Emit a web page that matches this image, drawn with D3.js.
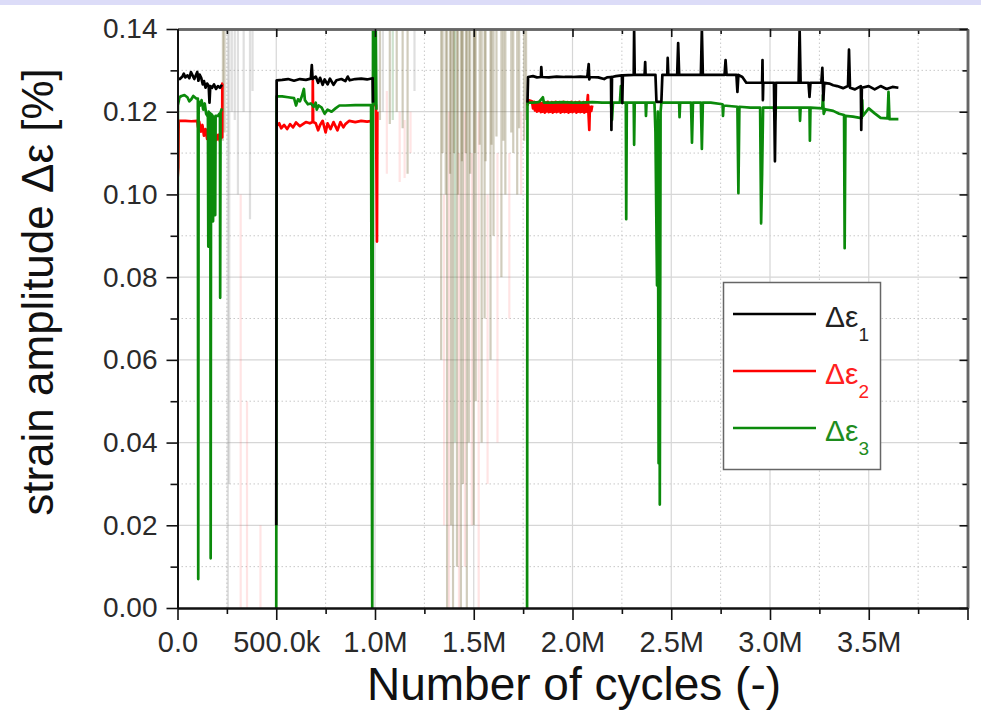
<!DOCTYPE html>
<html>
<head>
<meta charset="utf-8">
<script src="https://cdn.jsdelivr.net/npm/d3@7"></script>
<style>
body { margin: 0; background: #fff; }
svg { display: block; font-family: "Liberation Sans", Arial, sans-serif; }
</style>
</head>
<body>
<svg id="chart" width="981" height="721"></svg>
<script>
// cycles in thousands, strain amplitude in %
const xMajor = [0, 500, 1000, 1500, 2000, 2500, 3000, 3500, 4000];
const xMinor = [250, 750, 1250, 1750, 2250, 2750, 3250, 3750];
const xTickLabels = ["0.0", "500.0k", "1.0M", "1.5M", "2.0M", "2.5M", "3.0M", "3.5M", ""];
const yMajor = [0, 0.02, 0.04, 0.06, 0.08, 0.10, 0.12, 0.14];
const yMinor = [0.01, 0.03, 0.05, 0.07, 0.09, 0.11, 0.13];

const legendLabels = ["1", "2", "3"];

// Δε1
const eps1 = [
    [0, 0.1281], [12, 0.1279], [25, 0.1285], [32, 0.1292], [40, 0.1283], [50, 0.1288], [60, 0.1281],
    [68, 0.1296], [75, 0.1289], [85, 0.1279], [92, 0.1287], [100, 0.1296], [106, 0.1275], [112, 0.129],
    [120, 0.1282], [128, 0.1266], [134, 0.1274], [142, 0.1258], [150, 0.1268], [158, 0.1262], [162, 0.1222],
    [166, 0.1262], [175, 0.1258], [185, 0.1266], [195, 0.1255], [205, 0.1262], [215, 0.1258], [225, 0.1265],
    null,
    [500, 0.020], [502, 0.1276], [530, 0.1277], [560, 0.1279], [590, 0.1275], [620, 0.1279], [650, 0.1277],
    [675, 0.128], [680, 0.1313], [684, 0.1279], [700, 0.1285], [712, 0.127], [722, 0.1282], [735, 0.1265],
    [745, 0.1278], [760, 0.1266], [772, 0.128], [790, 0.1265], [805, 0.1276], [830, 0.1279], [850, 0.1274],
    [862, 0.1285], [872, 0.1276], [900, 0.1279], [930, 0.128], [960, 0.1278], [988, 0.1281], [990, 0.1222],
    null,
    [1772, 0.1222], [1775, 0.1284], [1800, 0.1286], [1820, 0.1283], [1840, 0.1284], [1842, 0.1308], [1845, 0.1284],
    [1880, 0.1283], [1920, 0.1285], [1960, 0.1284], [2000, 0.1284], [2040, 0.1285], [2075, 0.1284],
    [2082, 0.1315], [2085, 0.1278], [2088, 0.1284], [2130, 0.1283], [2160, 0.1279], [2175, 0.1283],
    [2195, 0.1284], [2197, 0.1156], [2200, 0.1284], [2220, 0.1286], [2250, 0.1288], [2252, 0.1221],
    [2255, 0.1288], [2310, 0.1289], [2312, 0.14], [2315, 0.1289], [2365, 0.1289], [2368, 0.132],
    [2370, 0.1289], [2420, 0.1289], [2425, 0.1224], [2450, 0.1224], [2455, 0.1289], [2480, 0.1289],
    [2482, 0.133], [2485, 0.1289], [2530, 0.1289], [2535, 0.1366], [2540, 0.1289], [2600, 0.1289],
    [2650, 0.1289], [2655, 0.14], [2660, 0.1289], [2700, 0.1289], [2770, 0.1289], [2775, 0.1325],
    [2780, 0.1289], [2830, 0.1289], [2835, 0.1248], [2840, 0.1289], [2860, 0.1284], [2880, 0.127],
    [2920, 0.127], [2960, 0.127], [2962, 0.1325], [2964, 0.1228], [2966, 0.127], [3020, 0.127],
    [3025, 0.108], [3030, 0.127], [3100, 0.127], [3145, 0.127], [3150, 0.14], [3155, 0.127],
    [3195, 0.127], [3200, 0.1236], [3205, 0.127], [3260, 0.127], [3265, 0.1306], [3270, 0.1228],
    [3275, 0.127], [3300, 0.1268], [3320, 0.1264], [3340, 0.1262], [3370, 0.1257], [3395, 0.1262],
    [3400, 0.135], [3405, 0.1258], [3430, 0.1254], [3460, 0.1262], [3462, 0.1156], [3465, 0.1258],
    [3500, 0.1262], [3530, 0.1254], [3560, 0.1262], [3590, 0.1255], [3620, 0.126], [3650, 0.1258]
];

// Δε2
const eps2 = [
    [0, 0.1035], [4, 0.1066], [6, 0.1178], [40, 0.1178], [70, 0.1177], [100, 0.1178], [104, 0.1163],
    [110, 0.1176], [118, 0.1152], [126, 0.1168], [134, 0.1142], [142, 0.1158], [150, 0.1134], [158, 0.1152],
    [166, 0.1138], [174, 0.1148], [182, 0.1128], [190, 0.1146], [198, 0.1132], [206, 0.1144], [214, 0.113],
    [222, 0.1142], [226, 0.1138], [227, 0.1268], [229, 0.1268],
    null,
    [502, 0.1165], [515, 0.1172], [525, 0.116], [540, 0.1168], [555, 0.1158], [570, 0.117], [585, 0.1162],
    [600, 0.1174], [620, 0.1165], [650, 0.1175], [670, 0.1172], [684, 0.1175], [685, 0.1277], [687, 0.1175],
    [700, 0.1172], [712, 0.1155], [722, 0.1168], [735, 0.1178], [750, 0.115], [760, 0.1172], [775, 0.1158],
    [790, 0.1175], [810, 0.1155], [825, 0.1175], [840, 0.1162], [850, 0.117], [870, 0.1178], [900, 0.1175],
    [930, 0.1178], [960, 0.1176], [985, 0.1178], [988, 0.1216], [1005, 0.1216], [1010, 0.0886], [1012, 0.12],
    null,
    [1772, 0.1215], [1775, 0.1228], [1795, 0.1225], [1800, 0.1208], [1805, 0.1224], [1810, 0.1203],
    [1815, 0.1222], [1820, 0.12], [1825, 0.1223], [1830, 0.1202], [1835, 0.1224], [1840, 0.1199],
    [1845, 0.122], [1850, 0.12], [1855, 0.1223], [1860, 0.1198], [1865, 0.1222], [1870, 0.1201],
    [1875, 0.1224], [1880, 0.1199], [1885, 0.1221], [1890, 0.12], [1895, 0.1223], [1900, 0.1198],
    [1905, 0.1222], [1910, 0.12], [1915, 0.1224], [1920, 0.1199], [1925, 0.1221], [1930, 0.1201],
    [1935, 0.1223], [1940, 0.1198], [1945, 0.1222], [1950, 0.12], [1955, 0.1224], [1960, 0.1199],
    [1965, 0.1221], [1970, 0.12], [1975, 0.1223], [1980, 0.1198], [1985, 0.1222], [1990, 0.12],
    [1995, 0.1224], [2000, 0.1199], [2005, 0.1221], [2010, 0.1201], [2015, 0.1223], [2020, 0.1198],
    [2025, 0.1222], [2030, 0.12], [2035, 0.1224], [2040, 0.1199], [2045, 0.1221], [2050, 0.12],
    [2055, 0.1223], [2060, 0.1198], [2065, 0.1222], [2070, 0.12], [2078, 0.124], [2080, 0.1205],
    [2085, 0.1156], [2088, 0.1212], [2095, 0.1202], [2100, 0.1215]
];

// Δε3
const eps3 = [
    [0, 0.002], [2, 0.1215], [10, 0.1235], [20, 0.1238], [35, 0.124], [50, 0.1235], [60, 0.1225],
    [70, 0.123], [80, 0.1238], [95, 0.1232], [103, 0.1232], [105, 0.007], [107, 0.1225], [115, 0.1215],
    [122, 0.1228], [130, 0.1205], [138, 0.122], [145, 0.1195], [154, 0.1188], [156, 0.0874], [158, 0.12],
    [166, 0.1195], [168, 0.012], [170, 0.1195], [178, 0.119], [180, 0.0935], [183, 0.1185], [189, 0.1188],
    [191, 0.095], [193, 0.119], [205, 0.119], [212, 0.1195], [215, 0.1188], [216, 0.075], [218, 0.1198],
    [225, 0.1208],
    null,
    [500, 0.0], [502, 0.1237], [530, 0.1237], [560, 0.1235], [590, 0.1233], [600, 0.1215], [610, 0.123],
    [620, 0.1225], [630, 0.1238], [640, 0.1255], [645, 0.1228], [660, 0.1218], [675, 0.122], [690, 0.1212],
    [700, 0.1222], [705, 0.1205], [715, 0.1215], [730, 0.121], [745, 0.1195], [760, 0.1205], [780, 0.12],
    [800, 0.1208], [820, 0.1215], [850, 0.1215], [900, 0.1216], [950, 0.1216], [980, 0.1216], [986, 0.0],
    [990, 0.14], [1000, 0.1218], [1004, 0.14], [1007, 0.1205],
    null,
    [1770, 0.0], [1772, 0.1222], [1800, 0.1222], [1830, 0.1223], [1850, 0.1235], [1855, 0.1222],
    [1900, 0.1222], [1950, 0.1223], [2000, 0.1222], [2050, 0.1222], [2100, 0.1223], [2150, 0.1222],
    [2195, 0.1222], [2200, 0.118], [2205, 0.1222], [2240, 0.1222], [2245, 0.1262], [2250, 0.1222],
    [2270, 0.1222], [2272, 0.094], [2275, 0.1222], [2310, 0.1222], [2312, 0.112], [2315, 0.1222],
    [2370, 0.1222], [2372, 0.119], [2375, 0.1222], [2415, 0.1222], [2420, 0.115], [2428, 0.078],
    [2432, 0.12], [2436, 0.035], [2440, 0.118], [2442, 0.025], [2446, 0.12], [2450, 0.1222],
    [2500, 0.1222], [2540, 0.1222], [2542, 0.1187], [2545, 0.1222], [2600, 0.1222], [2605, 0.1125],
    [2610, 0.1222], [2650, 0.1222], [2655, 0.111], [2660, 0.1222], [2700, 0.1222], [2760, 0.1218],
    [2762, 0.119], [2765, 0.1215], [2835, 0.1212], [2840, 0.1003], [2845, 0.1212], [2900, 0.121],
    [2950, 0.121], [2955, 0.093], [2960, 0.105], [2965, 0.121], [3020, 0.121], [3025, 0.118],
    [3030, 0.121], [3100, 0.121], [3150, 0.121], [3152, 0.1178], [3155, 0.121], [3200, 0.121],
    [3202, 0.113], [3205, 0.121], [3265, 0.1208], [3268, 0.124], [3272, 0.1195], [3280, 0.1206],
    [3320, 0.1202], [3350, 0.1195], [3375, 0.1192], [3378, 0.087], [3382, 0.119], [3420, 0.1188],
    [3455, 0.1185], [3465, 0.1185], [3467, 0.1228], [3470, 0.119], [3500, 0.1208], [3530, 0.1196],
    [3560, 0.1185], [3595, 0.1184], [3600, 0.1248], [3605, 0.1182], [3650, 0.1182]
];

// faint scatter of the noisy measurement ranges
const noiseCycles = [230, 238, 255, 262, 275, 290, 306, 320, 335, 352, 367, 380, 420,
    1025, 1040, 1060, 1075, 1090, 1110, 1125, 1140, 1150, 1165, 1180, 1200,
    1335, 1350, 1365, 1375, 1385, 1395, 1405, 1415, 1425, 1435, 1445, 1455, 1465, 1475, 1490,
    1500, 1510, 1525, 1540, 1555, 1570, 1585, 1600, 1620, 1640, 1660, 1680, 1700, 1720, 1740, 1755,
    1342, 1358, 1380, 1400, 1420, 1440, 1460, 1482, 1505, 1530, 1560, 1590, 1615, 1650, 1690, 1730, 1765];
const noiseHigh = [0.14, 0.14, 0.14, 0.14, 0.14, 0.14, 0.14, 0.10, 0.14, 0.05, 0.14, 0.14, 0.02,
    0.14, 0.14, 0.125, 0.14, 0.14, 0.14, 0.12, 0.14, 0.118, 0.14, 0.12, 0.14,
    0.14, 0.10, 0.14, 0.12, 0.14, 0.14, 0.14, 0.14, 0.11, 0.14, 0.14, 0.12, 0.14, 0.14, 0.11,
    0.14, 0.14, 0.12, 0.14, 0.14, 0.10, 0.14, 0.14, 0.11, 0.14, 0.14, 0.11, 0.14, 0.14, 0.12, 0.14,
    0.14, 0.14, 0.14, 0.14, 0.14, 0.14, 0.14, 0.14, 0.14, 0.14, 0.14, 0.14, 0.14, 0.14, 0.14, 0.14, 0.14];
const noiseLow = [0.113, 0.115, 0.0, 0.03, 0.12, 0.118, 0.10, 0.0, 0.12, 0.0, 0.094, 0.125, 0.0,
    0.118, 0.12, 0.105, 0.117, 0.118, 0.12, 0.103, 0.116, 0.104, 0.105, 0.11, 0.125,
    0.06, 0.02, 0.0, 0.0, 0.02, 0.0, 0.04, 0.01, 0.0, 0.0, 0.03, 0.01, 0.0, 0.04, 0.02,
    0.02, 0.05, 0.0, 0.04, 0.07, 0.03, 0.06, 0.09, 0.04, 0.08, 0.10, 0.07, 0.11, 0.10, 0.10, 0.113,
    0.11, 0.10, 0.105, 0.11, 0.10, 0.108, 0.11, 0.105, 0.11, 0.112, 0.108, 0.112, 0.114, 0.113, 0.115, 0.116, 0.118];
const noiseKind = ["o", "o", "g", "g", "g", "g", "g", "r", "g", "r", "g", "g", "r",
    "o", "g", "r", "o", "n", "o", "r", "o", "r", "o", "r", "g",
    "o", "r", "o", "r", "o", "o", "n", "o", "r", "o", "o", "r", "o", "o", "r",
    "o", "o", "r", "o", "o", "r", "o", "o", "r", "o", "o", "r", "o", "o", "r", "o",
    "o", "o", "o", "o", "o", "o", "o", "o", "o", "o", "o", "o", "o", "o", "o", "o", "o"];

const colors = { black: "#000000", red: "#ff0000", green: "#0b8a0b" };
const noiseColors = { o: "#6e6030", g: "#8c8c8c", r: "#ff5a5a", n: "#3c8c3c" };
const noiseOpacity = { o: 0.32, g: 0.28, r: 0.16, n: 0.25 };

const svg = d3.select("#chart");
const x = d3.scaleLinear().domain([0, 4000]).range([177.5, 967.5]);
const y = d3.scaleLinear().domain([0, 0.14]).range([608, 29]);

svg.append("rect")
    .attr("x", 0).attr("y", 0)
    .attr("width", 981).attr("height", 5)
    .attr("fill", "#dcdcf8");

svg.append("clipPath").attr("id", "plot-clip")
    .append("rect")
    .attr("x", x(0)).attr("y", y(0.14))
    .attr("width", x(4000) - x(0)).attr("height", y(0) - y(0.14));

drawGrid();
drawNoise();
drawSeries();
drawAxes();
drawLegend();
drawTitles();

function drawGrid() {
    const grid = svg.append("g").attr("class", "grid");

    grid.selectAll(".minor-x")
        .data(xMinor)
        .enter()
        .append("line")
        .attr("x1", d => x(d)).attr("x2", d => x(d))
        .attr("y1", y(0)).attr("y2", y(0.14))
        .attr("stroke", "#c8c8c8")
        .attr("stroke-dasharray", "1.5,2.5");

    grid.selectAll(".minor-y")
        .data(yMinor)
        .enter()
        .append("line")
        .attr("x1", x(0)).attr("x2", x(4000))
        .attr("y1", d => y(d)).attr("y2", d => y(d))
        .attr("stroke", "#c8c8c8")
        .attr("stroke-dasharray", "1.5,2.5");

    grid.selectAll(".major-x")
        .data(xMajor.slice(1, -1))
        .enter()
        .append("line")
        .attr("x1", d => x(d)).attr("x2", d => x(d))
        .attr("y1", y(0)).attr("y2", y(0.14))
        .attr("stroke", "#d6d6d6")
        .attr("stroke-width", 1.2);

    grid.selectAll(".major-y")
        .data(yMajor.slice(1, -1))
        .enter()
        .append("line")
        .attr("x1", x(0)).attr("x2", x(4000))
        .attr("y1", d => y(d)).attr("y2", d => y(d))
        .attr("stroke", "#d6d6d6")
        .attr("stroke-width", 1.2);
}

function drawNoise() {
    svg.append("g")
        .attr("clip-path", "url(#plot-clip)")
        .selectAll("line")
        .data(noiseCycles)
        .enter()
        .append("line")
        .attr("x1", d => x(d)).attr("x2", d => x(d))
        .attr("y1", (d, i) => y(noiseHigh[i]))
        .attr("y2", (d, i) => y(noiseLow[i]))
        .attr("stroke", (d, i) => noiseColors[noiseKind[i]])
        .attr("stroke-width", 2.2)
        .attr("stroke-opacity", (d, i) => noiseOpacity[noiseKind[i]]);
}

function drawSeries() {
    const line = d3.line()
        .defined(d => d !== null)
        .x(d => x(d[0]))
        .y(d => y(d[1]));

    const g = svg.append("g").attr("clip-path", "url(#plot-clip)");

    // draw order as in the original plot: red under green under black
    [[eps2, colors.red], [eps3, colors.green], [eps1, colors.black]].forEach((s) => {
        g.append("path")
            .attr("d", line(s[0]))
            .attr("fill", "none")
            .attr("stroke", s[1])
            .attr("stroke-width", 2.7)
            .attr("stroke-linejoin", "round");
    });
}

function drawAxes() {
    const styleAxis = (sel, color, width) => {
        sel.select(".domain").attr("stroke", color).attr("stroke-width", width);
        sel.selectAll(".tick line").attr("stroke", "#111").attr("stroke-width", 1.6);
        sel.selectAll(".tick text").attr("fill", "#2a2a2a");
    };

    // top and right frame, ticks pointing inward
    svg.append("g")
        .attr("transform", `translate(0,${y(0.14)})`)
        .call(d3.axisTop(x).tickValues(xMinor).tickSizeInner(-5).tickSizeOuter(0).tickFormat(""))
        .call(styleAxis, "#666", 2.5);
    svg.append("g")
        .attr("transform", `translate(0,${y(0.14)})`)
        .call(d3.axisTop(x).tickValues(xMajor).tickSizeInner(-8).tickSizeOuter(0).tickFormat(""))
        .call(styleAxis, "#666", 2.5);
    svg.append("g")
        .attr("transform", `translate(${x(4000)},0)`)
        .call(d3.axisRight(y).tickValues(yMinor).tickSizeInner(-5).tickSizeOuter(0).tickFormat(""))
        .call(styleAxis, "#666", 2.5);
    svg.append("g")
        .attr("transform", `translate(${x(4000)},0)`)
        .call(d3.axisRight(y).tickValues(yMajor).tickSizeInner(-8).tickSizeOuter(0).tickFormat(""))
        .call(styleAxis, "#666", 2.5);

    // bottom axis
    svg.append("g")
        .attr("transform", `translate(0,${y(0)})`)
        .call(d3.axisBottom(x).tickValues(xMinor).tickSizeInner(6).tickSizeOuter(0).tickFormat(""))
        .call(styleAxis, "#111", 2);
    svg.append("g")
        .attr("transform", `translate(0,${y(0)})`)
        .call(d3.axisBottom(x).tickValues(xMajor).tickSizeInner(12).tickSizeOuter(0)
            .tickPadding(11).tickFormat((d, i) => xTickLabels[i]))
        .call(styleAxis, "#111", 2)
        .selectAll("text")
        .attr("font-size", 29);

    // left axis
    svg.append("g")
        .attr("transform", `translate(${x(0)},0)`)
        .call(d3.axisLeft(y).tickValues(yMinor).tickSizeInner(7).tickSizeOuter(0).tickFormat(""))
        .call(styleAxis, "#111", 2);
    svg.append("g")
        .attr("transform", `translate(${x(0)},0)`)
        .call(d3.axisLeft(y).tickValues(yMajor).tickSizeInner(11).tickSizeOuter(0)
            .tickPadding(9).tickFormat(d3.format(".2f")))
        .call(styleAxis, "#111", 2)
        .selectAll("text")
        .attr("font-size", 28);
}

function drawLegend() {
    const items = [colors.black, colors.red, colors.green];
    const textColors = ["#222222", "#ff2020", "#1e8c1e"];
    const legend = svg.append("g").attr("class", "legend");

    legend.append("rect")
        .attr("x", 723.5).attr("y", 282.5)
        .attr("width", 157).attr("height", 187)
        .attr("fill", "#fff")
        .attr("stroke", "#666")
        .attr("stroke-width", 1.5);

    const row = legend.selectAll(".item")
        .data(items)
        .enter()
        .append("g")
        .attr("transform", (d, i) => "translate(0," + (314 + i * 57) + ")");

    row.append("line")
        .attr("x1", 733).attr("x2", 816)
        .attr("stroke", d => d)
        .attr("stroke-width", 2.6);

    const label = row.append("text")
        .attr("x", 825)
        .attr("y", 13)
        .attr("font-size", 30)
        .attr("fill", (d, i) => textColors[i]);
    label.append("tspan").text("Δε");
    label.append("tspan")
        .attr("font-size", 19)
        .attr("dy", 14)
        .text((d, i) => legendLabels[i]);
}

function drawTitles() {
    svg.append("text")
        .attr("transform", "translate(53,292) rotate(-90)")
        .attr("text-anchor", "middle")
        .attr("font-size", 44)
        .attr("fill", "#111")
        .text("strain amplitude Δε [%]");

    svg.append("text")
        .attr("x", 574)
        .attr("y", 700)
        .attr("text-anchor", "middle")
        .attr("font-size", 46)
        .attr("fill", "#111")
        .text("Number of cycles (-)");
}
</script>
</body>
</html>
